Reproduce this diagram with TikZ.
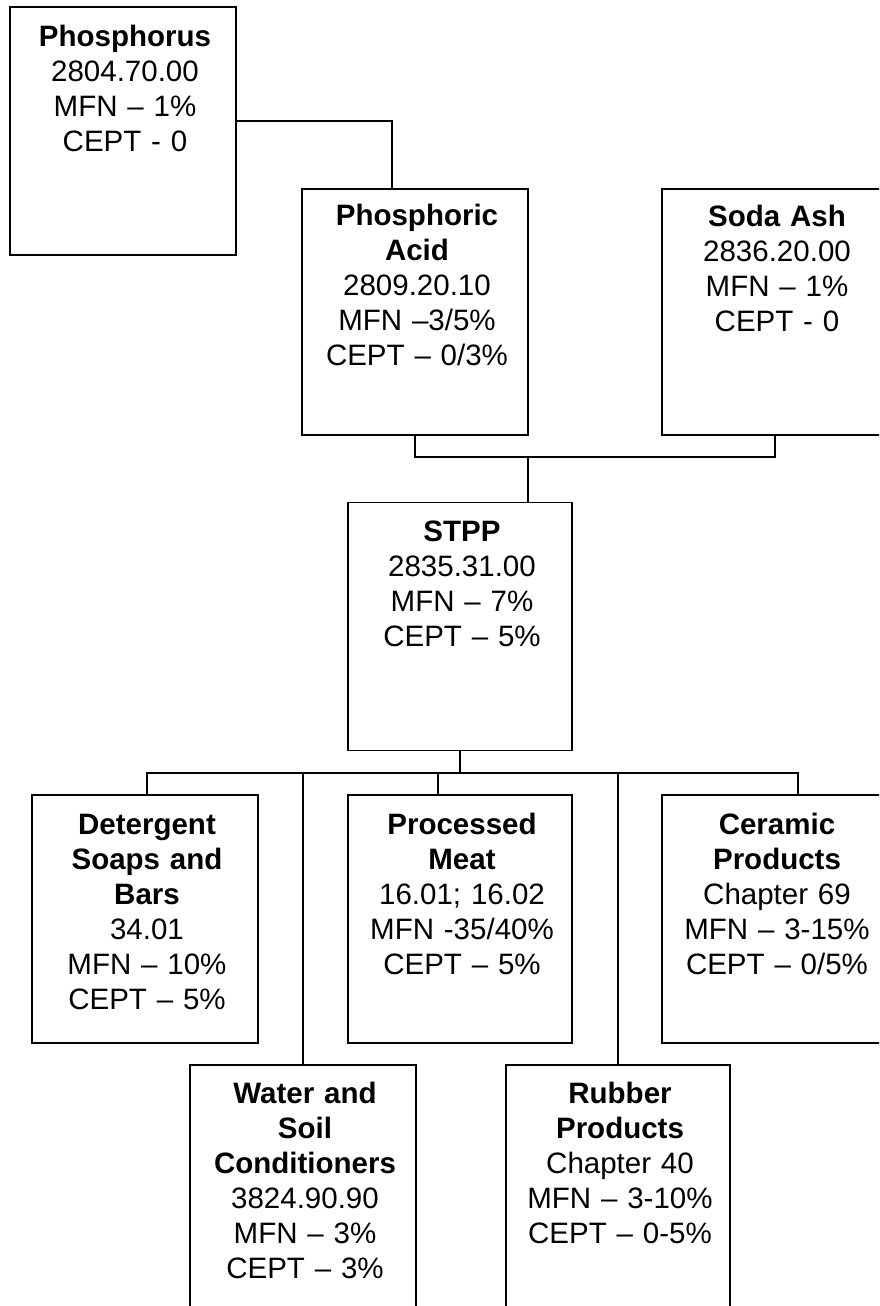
\documentclass[tikz,border=0pt]{standalone}
\usepackage{fontspec}
\setmainfont{Liberation Sans}

\begin{document}
\begin{tikzpicture}[x=1pt,y=-1pt,line width=1.6pt,
    box/.style={draw,inner sep=0pt,minimum width=226pt,minimum height=248pt},
    txt/.style={anchor=base,inner sep=0pt,xshift=2pt,text width=226pt,align=center,
      font=\fontsize{29.5}{35}\selectfont}]
  \useasboundingbox (0,0) rectangle (879,1306);
  \clip (0,0) rectangle (879,1306);%<- right and bottom boxes run off the page
  % boxes
  \node[box] (phos) at (123,131) {};
  \node[box,minimum height=246pt] (acid) at (415,312) {};
  \node[box,minimum height=246pt] (soda) at (775,312) {};
  \node[box,minimum width=224pt] (stpp) at (460,626.5) {};
  \node[box] (deter) at (145,919) {};
  \node[box,minimum width=224pt] (meat) at (460,919) {};
  \node[box] (ceram) at (775,919) {};
  \node[box] (water) at (303,1189) {};
  \node[box,minimum width=224pt] (rubber) at (618,1189) {};
  % texts
  \node[txt] (phos-t) at ([yshift=-40pt]phos.north) {\textbf{Phosphorus}\\2804.70.00\\MFN – 1\%\\CEPT - 0};
  \node[txt] (acid-t) at ([yshift=-37pt]acid.north) {\textbf{Phosphoric\\Acid}\\2809.20.10\\MFN –3/5\%\\CEPT – 0/3\%};
  \node[txt] (soda-t) at ([yshift=-38pt]soda.north) {\textbf{Soda Ash}\\2836.20.00\\MFN – 1\%\\CEPT - 0};
  \node[txt] (stpp-t) at ([yshift=-40pt]stpp.north) {\textbf{STPP}\\2835.31.00\\MFN – 7\%\\CEPT – 5\%};
  \node[txt] (deter-t) at ([yshift=-40pt]deter.north) {\textbf{Detergent\\Soaps and\\Bars}\\34.01\\MFN – 10\%\\CEPT – 5\%};
  \node[txt] (meat-t) at ([yshift=-40pt]meat.north) {\textbf{Processed\\Meat}\\16.01; 16.02\\MFN -35/40\%\\CEPT – 5\%};
  \node[txt] (ceram-t) at ([yshift=-40pt]ceram.north) {\textbf{Ceramic\\Products}\\Chapter 69\\MFN – 3-15\%\\CEPT – 0/5\%};
  \node[txt] (water-t) at ([yshift=-39pt]water.north) {\textbf{Water and\\Soil\\Conditioners}\\3824.90.90\\MFN – 3\%\\CEPT – 3\%};
  \node[txt] (rubber-t) at ([yshift=-39pt]rubber.north) {\textbf{Rubber\\Products}\\Chapter 40\\MFN – 3-10\%\\CEPT – 0-5\%};
  % connectors
  \coordinate (j1) at (392,121);
  \draw (phos.east |- j1) -| (acid.north -| j1);
  \coordinate (j2) at (528,457);
  \draw (acid.south) |- (j2) -| (soda.south);
  \draw (j2) -- (stpp.north -| j2);
  \coordinate (bl) at (147,773);
  \coordinate (bm) at (438,773);
  \coordinate (br) at (798,773);
  \draw (stpp.south) -- (stpp.south |- bl);
  \draw (deter.north -| bl) -- (bl) -- (br) -- (ceram.north -| br);
  \draw (bm) -- (meat.north -| bm);
  \draw (water.north) -- (water.north |- bl);
  \draw (rubber.north) -- (rubber.north |- bl);
\end{tikzpicture}
\end{document}
